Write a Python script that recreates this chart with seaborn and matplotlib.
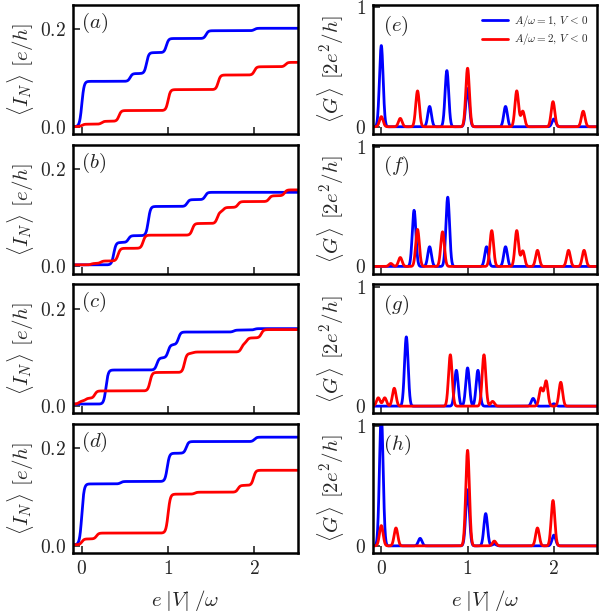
import numpy as np
import pandas as pd
import matplotlib
matplotlib.use("Agg")
import matplotlib.pyplot as plt
import seaborn as sns

# ---------------- data ----------------
# Left column: step positions (e|V|/omega) and plateau levels after each step
base_a = 0.0
blue_a_x = [0.0, 0.56, 0.75, 0.98, 1.44, 2.0]
blue_a_lvl = [0.093, 0.109, 0.152, 0.181, 0.197, 0.202]
red_a_x = [0.0, 0.23, 0.43, 1.0, 1.58, 2.0, 2.36]
red_a_lvl = [0.005, 0.011, 0.033, 0.076, 0.106, 0.123, 0.132]

base_b = 0.003
blue_b_x = [0.37, 0.54, 0.77, 1.22, 1.43]
blue_b_lvl = [0.049, 0.063, 0.123, 0.137, 0.152]
red_b_x = [0.11, 0.22, 0.42, 0.71, 1.28, 1.57, 1.64, 1.81, 2.17, 2.35]
red_b_lvl = [0.006, 0.011, 0.037, 0.064, 0.088, 0.112, 0.121, 0.133, 0.145, 0.157]

base_c = 0.004
blue_c_x = [0.28, 0.87, 1.0, 1.12, 1.76, 2.0]
blue_c_lvl = [0.074, 0.099, 0.126, 0.152, 0.156, 0.159]
red_c_x = [-0.035, 0.04, 0.15, 0.79, 1.19, 1.29, 1.85, 1.91, 2.08]
red_c_lvl = [0.010, 0.016, 0.031, 0.069, 0.108, 0.111, 0.128, 0.140, 0.157]

base_d = 0.002
blue_d_x = [0.0, 0.45, 0.99, 1.21, 2.0]
blue_d_lvl = [0.127, 0.132, 0.190, 0.214, 0.223]
red_d_x = [0.0, 0.17, 1.0, 1.31, 1.81, 1.99]
red_d_lvl = [0.014, 0.026, 0.106, 0.110, 0.124, 0.155]

# Right column: peak positions and peak heights
blue_e_pos = [0.0, 0.56, 0.76, 1.0, 1.44, 2.0]
blue_e_h = [0.68, 0.17, 0.47, 0.32, 0.17, 0.065]
red_e_pos = [0.0, 0.22, 0.42, 1.0, 1.57, 1.64, 1.99, 2.34]
red_e_h = [0.085, 0.07, 0.30, 0.49, 0.30, 0.13, 0.21, 0.13]

blue_f_pos = [0.38, 0.56, 0.77, 1.22, 1.44]
blue_f_h = [0.47, 0.165, 0.58, 0.165, 0.165]
red_f_pos = [0.11, 0.22, 0.42, 0.71, 1.28, 1.57, 1.64, 1.81, 2.17, 2.35]
red_f_h = [0.025, 0.075, 0.31, 0.29, 0.30, 0.30, 0.13, 0.135, 0.135, 0.135]

blue_g_pos = [0.29, 0.87, 1.0, 1.12, 1.76, 2.0]
blue_g_h = [0.58, 0.30, 0.32, 0.30, 0.065, 0.02]
red_g_pos = [-0.035, 0.04, 0.15, 0.80, 1.19, 1.29, 1.85, 1.91, 2.08]
red_g_h = [0.07, 0.07, 0.15, 0.43, 0.43, 0.04, 0.15, 0.21, 0.20]

blue_h_pos = [0.0, 0.45, 1.0, 1.21, 1.31, 2.0]
blue_h_h = [1.10, 0.063, 0.47, 0.27, 0.015, 0.09]
red_h_pos = [0.0, 0.17, 1.0, 1.31, 1.81, 1.99]
red_h_h = [0.17, 0.15, 0.80, 0.04, 0.15, 0.38]

panel_labels_left = ["$(a)$", "$(b)$", "$(c)$", "$(d)$"]
panel_labels_right = ["$(e)$", "$(f)$", "$(g)$", "$(h)$"]
legend_labels = [r"$A/\omega = 1,\, V\, <\, 0$", r"$A/\omega = 2,\, V\, <\, 0$"]
xticks = [0, 1, 2]
xticklabels = ["$0$", "$1$", "$2$"]
left_yticks = [0.0, 0.2]
left_yticklabels = ["$0.0$", "$0.2$"]
right_yticks = [0, 1]
right_yticklabels = ["$0$", "$1$"]

# ---------------- curve construction ----------------
xgrid = np.linspace(-0.1, 2.5, 1600)
STEP_W = 0.026
PEAK_S = 0.021


def steps(base, xs, lvls):
    y = np.full_like(xgrid, base)
    prev = base
    for x0, lv in zip(xs, lvls):
        y += (lv - prev) * 0.5 * (1 + np.tanh((xgrid - x0) / STEP_W))
        prev = lv
    return y


def peaks(pos, hs):
    y = np.zeros_like(xgrid)
    for x0, h in zip(pos, hs):
        y += h * np.exp(-0.5 * ((xgrid - x0) / PEAK_S) ** 2)
    return y


left = [
    (steps(base_a, blue_a_x, blue_a_lvl), steps(base_a, red_a_x, red_a_lvl)),
    (steps(base_b, blue_b_x, blue_b_lvl), steps(base_b, red_b_x, red_b_lvl)),
    (steps(base_c, blue_c_x, blue_c_lvl), steps(base_c, red_c_x, red_c_lvl)),
    (steps(base_d, blue_d_x, blue_d_lvl), steps(base_d, red_d_x, red_d_lvl)),
]
right = [
    (peaks(blue_e_pos, blue_e_h), peaks(red_e_pos, red_e_h)),
    (peaks(blue_f_pos, blue_f_h), peaks(red_f_pos, red_f_h)),
    (peaks(blue_g_pos, blue_g_h), peaks(red_g_pos, red_g_h)),
    (peaks(blue_h_pos, blue_h_h), peaks(red_h_pos, red_h_h)),
]

# ---------------- style ----------------
sns.set_style("ticks")
plt.rcParams["font.family"] = ["DejaVu Serif"]
plt.rcParams["mathtext.fontset"] = "cm"
plt.rcParams["axes.linewidth"] = 1.8

BLUE = "#0000ff"
RED = "#ff0000"
LW = 2.0

fig = plt.figure(figsize=(6.0, 6.14), dpi=100)
gs = fig.add_gridspec(4, 2, left=0.122, right=0.995, top=0.992, bottom=0.0993,
                      hspace=0.083, wspace=0.335)

for r in range(4):
    for c in range(2):
        ax = fig.add_subplot(gs[r, c])
        yb, yr = (left if c == 0 else right)[r]
        lab_b = legend_labels[0] if (c == 1 and r == 0) else None
        lab_r = legend_labels[1] if (c == 1 and r == 0) else None
        sns.lineplot(x=xgrid, y=yb, color=BLUE, lw=LW, ax=ax, label=lab_b,
                     estimator=None, sort=False)
        sns.lineplot(x=xgrid, y=yr, color=RED, lw=LW, ax=ax, label=lab_r,
                     estimator=None, sort=False)
        ax.set_xlim(-0.1, 2.5)
        ax.set_xticks(xticks)
        if c == 0:
            ax.set_ylim(-0.015, 0.25)
            ax.set_yticks(left_yticks)
            ax.set_yticklabels(left_yticklabels)
            ax.set_ylabel(r"$\langle I_N\rangle\;\,[e/h]$", fontsize=15, labelpad=3)
            ax.text(0.035, 0.955, panel_labels_left[r], transform=ax.transAxes,
                    ha="left", va="top", fontsize=15)
        else:
            ax.set_ylim(-0.06, 1.02)
            ax.set_yticks(right_yticks)
            ax.set_yticklabels(right_yticklabels)
            ax.set_ylabel(r"$\langle G\rangle\;\,[2e^2/h]$", fontsize=15, labelpad=6)
            ax.text(0.045, 0.93, panel_labels_right[r], transform=ax.transAxes,
                    ha="left", va="top", fontsize=15)
        if r == 3:
            ax.set_xticklabels(xticklabels)
            ax.set_xlabel(r"$e\;|V|\;/\omega$", fontsize=15, labelpad=7)
        else:
            ax.set_xticklabels([])
            ax.set_xlabel("")
        ax.tick_params(direction="in", length=5, width=1.2, labelsize=14,
                       top=False, right=False, pad=5)
        for s in ax.spines.values():
            s.set_linewidth(1.8)
            s.set_color("black")
        if c == 1 and r == 0:
            ax.legend(loc="upper right", frameon=False, fontsize=8,
                      handlelength=2.3, borderaxespad=0.3, labelspacing=0.25,
                      handletextpad=0.6)
        else:
            lg = ax.get_legend()
            if lg is not None:
                lg.remove()

fig.savefig("out.png", dpi=100)
